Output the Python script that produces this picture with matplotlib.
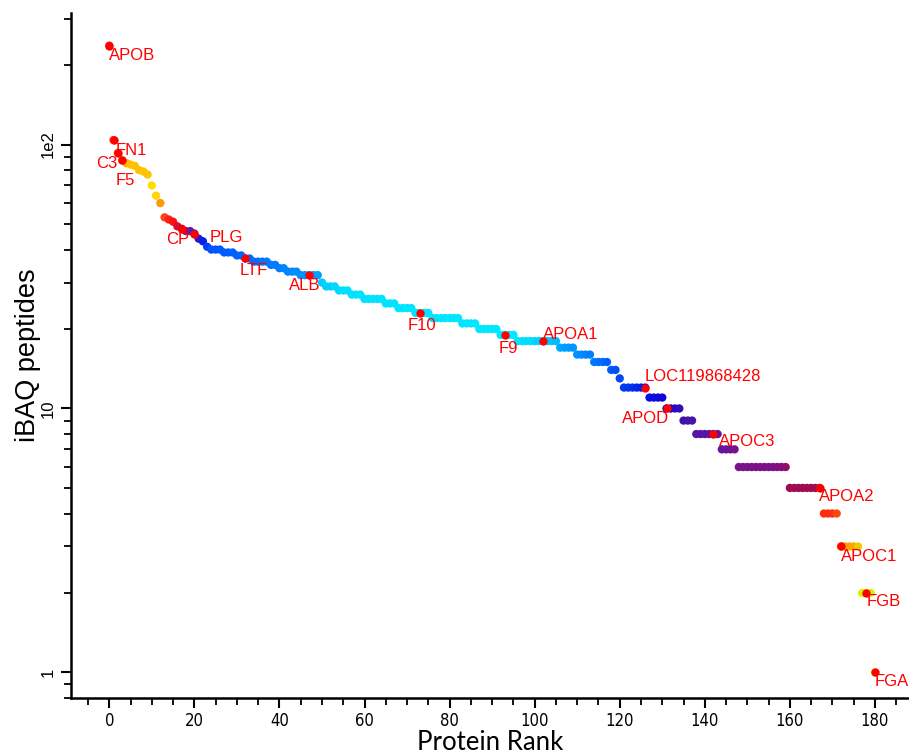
import numpy as np
import matplotlib
matplotlib.use("Agg")
import matplotlib.pyplot as plt
from matplotlib.colors import LinearSegmentedColormap
from matplotlib.ticker import FixedLocator, FixedFormatter, LogLocator, MultipleLocator, NullFormatter

# iBAQ peptide counts, ordered by protein rank (0..180)
peptides = [
    237, 104, 93, 87, 85, 84, 83, 80, 79, 77,
    70, 64, 60, 53, 52, 51, 49, 48, 47, 47,
    46, 44, 43, 41, 40, 40, 40, 39, 39, 39,
    38, 38, 37, 37, 36, 36, 36, 36, 35, 35,
    34, 34, 33, 33, 33, 32, 32, 32, 32, 32,
    30, 29, 29, 29, 28, 28, 28, 27, 27, 27,
    26, 26, 26, 26, 26, 25, 25, 25, 24, 24,
    24, 24, 23, 23, 23, 23, 22, 22, 22, 22,
    22, 22, 22, 21, 21, 21, 21, 20, 20, 20,
    20, 20, 19, 19, 19, 19, 18, 18, 18, 18,
    18, 18, 18, 18, 18, 18, 17, 17, 17, 17,
    16, 16, 16, 16, 15, 15, 15, 15, 14, 14,
    13, 12, 12, 12, 12, 12, 12, 11, 11, 11,
    11, 10, 10, 10, 10, 9, 9, 9, 8, 8,
    8, 8, 8, 8, 7, 7, 7, 7, 6, 6,
    6, 6, 6, 6, 6, 6, 6, 6, 6, 6,
    5, 5, 5, 5, 5, 5, 5, 5, 4, 4,
    4, 4, 3, 3, 3, 3, 3, 2, 2, 2,
    1,
]
rank = np.arange(len(peptides))

# highlighted proteins
label_names = ["APOB", "FN1", "C3", "F5", "CP", "PLG", "LTF", "ALB", "F10", "F9",
               "APOA1", "LOC119868428", "APOD", "APOC3", "APOA2", "APOC1", "FGB", "FGA"]
label_ranks = [0, 1, 2, 3, 17, 20, 32, 47, 73, 93,
               102, 126, 131, 142, 167, 172, 178, 180]

# label placement (pixel offsets from the point, horizontal alignment)
label_offsets = [(0, -10, "left"), (2, -10, "left"), (0, -11, "right"), (-6, -20, "left"),
                 (-15, -11, "left"), (15, -4, "left"), (-6, -12, "left"), (-20, -10, "left"),
                 (-12, -13, "left"), (-6, -14, "left"), (0, 7, "left"), (-1, 11, "left"),
                 (3, -10, "right"), (6, -7, "left"), (-1, -9, "left"), (0, -10, "left"),
                 (0, -9, "left"), (0, -9, "left")]

# colour ramp along rank
ramp = [(0, "#ff1a1a"), (4, "#ffc000"), (9, "#ffc400"), (10, "#ffe000"), (11, "#ffcc00"),
        (12, "#ff9900"), (13, "#ff2020"), (15, "#ff1010"), (16, "#b0124e"), (17, "#c01040"),
        (18, "#6a1ba0"), (19, "#6a1ba0"), (21, "#2a10c8"), (22, "#0020f0"), (23, "#0050ff"),
        (35, "#0070ff"), (45, "#0090ff"), (49, "#00a0ff"), (50, "#00ccff"), (56, "#00e2ff"),
        (95, "#00e8ff"), (100, "#00d8ff"), (105, "#00c0ff"), (106, "#00a8ff"), (113, "#0080ff"),
        (117, "#0060ff"), (121, "#0040f0"), (127, "#0010e8"), (132, "#1a00d0"), (135, "#3a10b0"),
        (138, "#5015a8"), (144, "#60169e"), (148, "#78128a"), (159, "#801080"), (160, "#a00a50"),
        (167, "#a00a50"), (168, "#ff2a10"), (171, "#ff2a10"), (173, "#ffa000"), (176, "#ffa800"),
        (177, "#d8f000"), (180, "#d8f000")]
cmap = LinearSegmentedColormap.from_list("rank", [(r / 180, c) for r, c in ramp])

fig = plt.figure(figsize=(9.09, 7.56), dpi=100)
ax = fig.add_axes([71 / 909, 1 - 698 / 756, (909 - 71) / 909, (698 - 13) / 756])

ax.scatter(rank, peptides, c=rank, cmap=cmap, vmin=0, vmax=180, s=36, linewidths=0, zorder=2)

lr = np.array(label_ranks)
lv = np.array(peptides)[lr]
ax.scatter(lr, lv, color="#ff0000", s=36, linewidths=0, zorder=3)
for name, r, v, (dx, dy, ha) in zip(label_names, lr, lv, label_offsets):
    ax.annotate(name, (r, v), xytext=(dx, dy), textcoords="offset pixels",
                ha=ha, va="center", color="#ff0000", fontsize=12,
                family=["Liberation Sans", "DejaVu Sans"], zorder=4)

ax.set_yscale("log")
ax.set_ylim(0.8, 315)
ax.set_xlim(-9, 188)

ax.yaxis.set_major_locator(FixedLocator([1, 10, 100]))
ax.yaxis.set_major_formatter(FixedFormatter(["1", "10", "1e2"]))
ax.yaxis.set_minor_locator(LogLocator(base=10, subs=np.arange(2, 10)))
ax.yaxis.set_minor_formatter(NullFormatter())
ax.xaxis.set_major_locator(MultipleLocator(20))
ax.xaxis.set_minor_locator(MultipleLocator(5))

for lab in ax.get_yticklabels():
    lab.set_rotation(90)
    lab.set_va("center")
    lab.set_family(["Liberation Sans", "DejaVu Sans"])
    lab.set_fontsize(12)
for lab in ax.get_xticklabels():
    lab.set_family(["Liberation Sans Narrow", "DejaVu Sans"])
    lab.set_fontstretch("condensed")
    lab.set_fontsize(12)

ax.tick_params(which="major", direction="out", length=7, width=1.5)
ax.tick_params(which="minor", direction="out", length=5, width=1.3)
ax.tick_params(axis="x", pad=3)
ax.tick_params(axis="y", pad=4)

for side in ("top", "right"):
    ax.spines[side].set_visible(False)
for side in ("left", "bottom"):
    ax.spines[side].set_linewidth(1.8)

ax.set_ylabel("iBAQ peptides", fontsize=19.5, family=["Liberation Sans", "DejaVu Sans"], labelpad=0)
ax.set_xlabel("Protein Rank", fontsize=18.5, family=["Lato", "DejaVu Sans"], labelpad=0)

fig.savefig("out.png", dpi=100)
